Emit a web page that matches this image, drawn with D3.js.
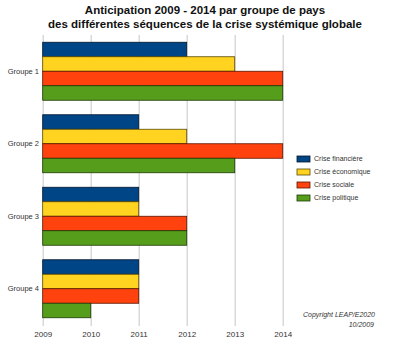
<!DOCTYPE html>
<html>
<head>
<meta charset="utf-8">
<script src="https://cdn.jsdelivr.net/npm/d3@7"></script>
<style>
  body { margin: 0; background: #fff; }
  svg { font-family: "Liberation Sans", Arial, sans-serif; display: block; }
</style>
</head>
<body>
<svg id="chart"></svg>
<script>
var width = 400;
var height = 349;

var groups = ['Groupe 1', 'Groupe 2', 'Groupe 3', 'Groupe 4'];
var series = ['Crise financière', 'Crise économique', 'Crise sociale', 'Crise politique'];
var colors = ['#004586', '#ffd320', '#ff420e', '#579d1c'];
var strokes = ['#00152b', '#5a4a00', '#5a1400', '#1c3a06'];

// year of each crisis, one array per series, in group order
var financiere = [2012, 2011, 2011, 2011];
var economique = [2013, 2012, 2011, 2011];
var sociale    = [2014, 2014, 2012, 2011];
var politique  = [2014, 2013, 2012, 2010];

var years = [2009, 2010, 2011, 2012, 2013, 2014];

var values = [financiere, economique, sociale, politique];

var svg = d3.select('#chart')
    .attr('width', width)
    .attr('height', height);

var xScale = d3.scaleLinear()
    .domain([2009, 2014])
    .range([42.7, 282.7]);

var yScale = d3.scaleBand()
    .domain(groups)
    .range([35, 325])
    .paddingInner(0.2)
    .paddingOuter(0.1);

var ySub = d3.scaleBand()
    .domain(series)
    .range([0, yScale.bandwidth()]);

// title
svg.append('text')
    .attr('x', 205)
    .attr('y', 14)
    .style('font-size', '11.5px')
    .style('font-weight', 'bold')
    .style('text-anchor', 'middle')
    .style('fill', '#111')
    .text('Anticipation 2009 - 2014 par groupe de pays');

svg.append('text')
    .attr('x', 205)
    .attr('y', 28)
    .style('font-size', '11.5px')
    .style('font-weight', 'bold')
    .style('text-anchor', 'middle')
    .style('fill', '#111')
    .text('des différentes séquences de la crise systémique globale');

// grid
var xAxis = d3.axisBottom(xScale)
    .tickValues(years)
    .tickFormat(d3.format('d'))
    .tickSize(-(326 - 35))
    .tickSizeOuter(0)
    .tickPadding(5);

var gx = svg.append('g')
    .attr('transform', 'translate(0,326)')
    .call(xAxis);
gx.select('.domain').remove();
gx.selectAll('line').attr('stroke', '#cfcfcf').attr('stroke-width', 1.2);
gx.selectAll('text')
    .style('font-size', '8px')
    .style('fill', '#333')
    .style('font-family', '"Liberation Sans", Arial, sans-serif');

// bars
series.forEach(function(s, i) {
    svg.append('g')
        .selectAll('rect')
        .data(groups)
        .enter()
        .append('rect')
            .attr('x', xScale(2009))
            .attr('y', function(g) { return yScale(g) + ySub(s); })
            .attr('width', function(g, j) { return xScale(values[i][j]) - xScale(2009); })
            .attr('height', ySub.bandwidth())
            .attr('fill', colors[i])
            .attr('stroke', strokes[i])
            .attr('stroke-width', 0.8);
});

// group labels
svg.append('g')
    .selectAll('text')
    .data(groups)
    .enter()
    .append('text')
        .attr('x', 39)
        .attr('y', function(g) { return yScale(g) + yScale.bandwidth() / 2; })
        .attr('dy', '0.35em')
        .style('text-anchor', 'end')
        .style('font-size', '7.5px')
        .style('fill', '#333')
        .text(function(g) { return g; });

// legend
var legend = svg.append('g')
    .selectAll('g')
    .data(series)
    .enter()
    .append('g')
        .attr('transform', function(d, i) { return 'translate(297,' + (159 + i * 13) + ')'; });

legend.append('rect')
    .attr('x', 0)
    .attr('y', -3)
    .attr('width', 13)
    .attr('height', 6)
    .attr('fill', function(d, i) { return colors[i]; })
    .attr('stroke', function(d, i) { return strokes[i]; })
    .attr('stroke-width', 0.8);

legend.append('text')
    .attr('x', 17)
    .attr('dy', '0.35em')
    .style('font-size', '7px')
    .style('fill', '#333')
    .text(function(d) { return d; });

// copyright
svg.append('text')
    .attr('x', 375)
    .attr('y', 317)
    .style('text-anchor', 'end')
    .style('font-size', '7px')
    .style('font-style', 'italic')
    .style('fill', '#333')
    .text('Copyright LEAP/E2020');

svg.append('text')
    .attr('x', 374)
    .attr('y', 327)
    .style('text-anchor', 'end')
    .style('font-size', '7px')
    .style('font-style', 'italic')
    .style('fill', '#333')
    .text('10/2009');
</script>
</body>
</html>
